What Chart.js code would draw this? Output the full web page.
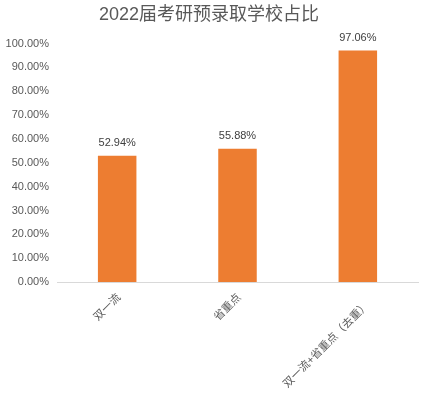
<!DOCTYPE html>
<html><head><meta charset="utf-8">
<script src="https://cdn.jsdelivr.net/npm/chart.js@4"></script>
<style>html,body{margin:0;padding:0;background:#fff}#wrap{width:428px;height:394px}</style>
</head><body><div id="wrap"><canvas id="c"></canvas></div>
<script>
const titleText = '2022届考研预录取学校占比';
const categories = ['双一流', '省重点', '双一流+省重点（去重）'];
const values = [52.94, 55.88, 97.06];
const yTicks = [0,10,20,30,40,50,60,70,80,90,100];

const FONT = "'Liberation Sans', 'Noto Sans CJK SC', sans-serif";
const labelPlugin = {
  id: 'vals',
  afterDatasetsDraw(chart) {
    const ctx = chart.ctx;
    const meta = chart.getDatasetMeta(0);
    ctx.save();
    ctx.font = '11px ' + FONT;
    ctx.fillStyle = '#404040';
    ctx.textAlign = 'center';
    ctx.textBaseline = 'bottom';
    meta.data.forEach((el, i) => {
      ctx.fillText(values[i].toFixed(2) + '%', el.x, el.y - 7);
    });
    ctx.restore();
  }
};
new Chart(document.getElementById('c'), {
  type: 'bar',
  data: { labels: categories, datasets: [{ data: values, backgroundColor: '#ED7D31', categoryPercentage: 1, barPercentage: 0.32 }] },
  options: {
    responsive: true, maintainAspectRatio: false, animation: false,
    layout: { padding: { left: 0, right: 10, top: 0, bottom: 0 } },
    plugins: {
      legend: { display: false },
      tooltip: { enabled: false },
      title: { display: true, text: titleText, color: '#595959', font: { family: FONT, size: 18, weight: 'normal' }, padding: { top: 4, bottom: 18 } }
    },
    scales: {
      x: {
        grid: { display: false, drawTicks: false },
        border: { display: true, color: '#d9d9d9' },
        ticks: {
          color: '#595959', font: { family: FONT, size: 11, lineHeight: 1.0 },
          minRotation: 45, maxRotation: 45, padding: 10, labelOffset: 2,
          callback: (v, i) => { const l = categories[i]; return l.length > 6 ? ['', l] : l; }
        },
        afterFit(s) { s.height = 112; }
      },
      y: {
        min: 0, max: 100,
        afterBuildTicks(s) { s.ticks = yTicks.map(v => ({ value: v })); },
        grid: { display: false, drawTicks: false },
        border: { display: false },
        ticks: { color: '#595959', font: { family: FONT, size: 11 }, padding: 8, callback: v => Number(v).toFixed(2) + '%' },
        afterFit(s) { s.width = 57; }
      }
    }
  },
  plugins: [labelPlugin]
});
</script></body></html>
